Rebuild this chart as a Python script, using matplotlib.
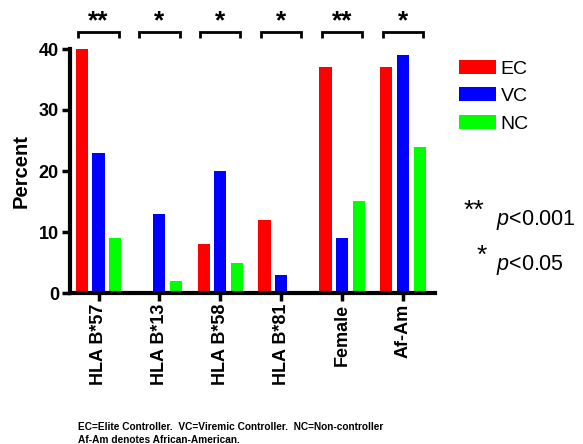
import matplotlib
matplotlib.use("Agg")
import matplotlib.pyplot as plt
import numpy as np

categories = ["HLA B*57", "HLA B*13", "HLA B*58", "HLA B*81", "Female", "Af-Am"]
series_names = ["EC", "VC", "NC"]
ec = [40, 0, 8, 12, 37, 37]
vc = [23, 13, 20, 3, 9, 39]
nc = [9, 2, 5, 0, 15, 24]
significance = ["**", "*", "*", "*", "**", "*"]
yticks = [0, 10, 20, 30, 40]

colors = ["#ff0000", "#0000ff", "#00ff00"]

plt.rcParams['font.family'] = ['Liberation Sans', 'DejaVu Sans']
plt.rcParams['mathtext.fontset'] = 'custom'
plt.rcParams['mathtext.it'] = 'Liberation Sans:italic'
plt.rcParams['mathtext.rm'] = 'Liberation Sans'

W, H = 583, 444
fig = plt.figure(figsize=(W / 100, H / 100), dpi=100)
ax = fig.add_axes([70 / W, 1 - 293 / H, (435 - 70) / W, (293 - 49) / H])

x = np.arange(len(categories))
step = 0.274
width = 0.2
for i, (vals, c, name) in enumerate(zip([ec, vc, nc], colors, series_names)):
    heights = np.array(vals, dtype=float)
    ax.bar(x + (i - 1) * step, heights, width=width, color=c, label=name,
           edgecolor='none')

ax.set_xlim(-0.468, 5.525)
ax.set_ylim(0, 40)
ax.set_yticks(yticks)
ax.set_yticklabels([str(t) for t in yticks], fontweight='bold', fontsize=13)
ax.set_xticks(x)
ax.set_xticklabels(categories, rotation=90, fontweight='bold', fontsize=13)
ax.tick_params(axis='both', direction='out', length=6, width=2.5, pad=2)
for s in ['top', 'right']:
    ax.spines[s].set_visible(False)
for s in ['left', 'bottom']:
    ax.spines[s].set_linewidth(3)
ax.set_ylabel("Percent", fontweight='bold', fontsize=14.5, labelpad=6)

# significance brackets
half = 0.33
for xi, sig in zip(x, significance):
    ax.plot([xi - half, xi - half, xi + half, xi + half], [41.8, 42.8, 42.8, 41.8],
            color='black', lw=2.0, clip_on=False, solid_capstyle='butt',
            solid_joinstyle='miter')
    ax.text(xi, 44.5, sig, ha='center', va='center', fontsize=19,
            fontweight='bold', clip_on=False)

leg = ax.legend(loc='upper left', bbox_to_anchor=(459 / W, 1 - 60 / H),
                bbox_transform=fig.transFigure, frameon=False, fontsize=14,
                handlelength=1.9, handleheight=0.72, handletextpad=0.25,
                labelspacing=0.5, borderpad=0, borderaxespad=0)

fig.text(464 / W, 1 - 211 / H, "**", fontsize=19, ha='left', va='center')
fig.text(496 / W, 1 - 225 / H, r"$\mathit{p}$<0.001", fontsize=15.5, ha='left',
         va='baseline')
fig.text(477 / W, 1 - 256 / H, "*", fontsize=19, ha='left', va='center')
fig.text(496 / W, 1 - 270 / H, r"$\mathit{p}$<0.05", fontsize=15.5, ha='left',
         va='baseline')

fig.text(78 / W, 1 - 427 / H,
         "EC=Elite Controller.  VC=Viremic Controller.  NC=Non-controller",
         fontsize=7.25, fontweight='bold', ha='left', va='center')
fig.text(78 / W, 1 - 440 / H, "Af-Am denotes African-American.",
         fontsize=7.25, fontweight='bold', ha='left', va='center')

fig.savefig("out.png", dpi=100)
